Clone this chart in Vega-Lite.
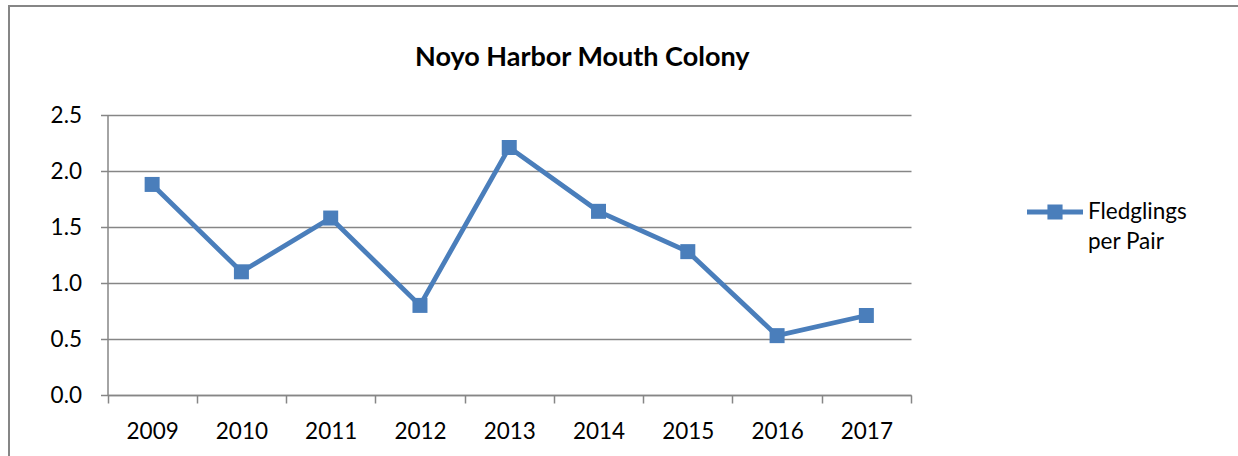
{
  "$schema": "https://vega.github.io/schema/vega-lite/v6.json",
  "width": 1240,
  "height": 460,
  "autosize": {"type": "none"},
  "padding": {"left": 9, "top": 6, "right": 0, "bottom": 0},
  "background": "white",
  "config": {"view": {"stroke": "#868686", "strokeWidth": 2}, "font": "Lato"},
  "title": {
    "text": "Noyo Harbor Mouth Colony",
    "font": "Lato",
    "fontSize": 27,
    "fontWeight": "bold",
    "color": "black",
    "anchor": "start",
    "frame": "group",
    "baseline": "alphabetic",
    "offset": 0,
    "dx": 406,
    "dy": 87
  },
  "data": {
    "values": [
      {"year": 2009, "series": "Fledglings per Pair", "value": 1.88},
      {"year": 2010, "series": "Fledglings per Pair", "value": 1.10},
      {"year": 2011, "series": "Fledglings per Pair", "value": 1.58},
      {"year": 2012, "series": "Fledglings per Pair", "value": 0.80},
      {"year": 2013, "series": "Fledglings per Pair", "value": 2.21},
      {"year": 2014, "series": "Fledglings per Pair", "value": 1.64},
      {"year": 2015, "series": "Fledglings per Pair", "value": 1.28},
      {"year": 2016, "series": "Fledglings per Pair", "value": 0.53},
      {"year": 2017, "series": "Fledglings per Pair", "value": 0.71}
    ]
  },
  "mark": {
    "type": "line",
    "strokeWidth": 4.8,
    "point": {"shape": "square", "size": 225, "filled": true, "opacity": 1}
  },
  "encoding": {
    "x": {
      "field": "year",
      "type": "quantitative",
      "scale": {"domain": [2008.5, 2017.5], "range": [98.5, 902], "nice": false, "zero": false},
      "axis": {
        "title": null,
        "values": [2008.5, 2009, 2009.5, 2010, 2010.5, 2011, 2011.5, 2012, 2012.5, 2013, 2013.5, 2014, 2014.5, 2015, 2015.5, 2016, 2016.5, 2017, 2017.5],
        "labelExpr": "datum.value % 1 === 0 ? format(datum.value, 'd') : ''",
        "offset": -71,
        "grid": false,
        "domainColor": "#868686",
        "domainWidth": 1.5,
        "tickColor": "#868686",
        "tickWidth": 1.5,
        "tickSize": 8,
        "tickOpacity": {"condition": {"test": "datum.value % 1 !== 0", "value": 1}, "value": 0},
        "labelFont": "Lato",
        "labelFontSize": 22.5,
        "labelColor": "black",
        "labelPadding": 17,
        "labelOverlap": false,
        "labelFlush": false,
        "labelBound": false
      }
    },
    "y": {
      "field": "value",
      "type": "quantitative",
      "scale": {"domain": [0, 2.5], "range": [389, 109], "nice": false, "zero": true},
      "axis": {
        "title": null,
        "values": [0, 0.5, 1, 1.5, 2, 2.5],
        "format": ".1f",
        "offset": -98.5,
        "grid": true,
        "gridColor": "#868686",
        "gridWidth": 1.5,
        "domainColor": "#868686",
        "domainWidth": 1.5,
        "tickColor": "#868686",
        "tickWidth": 1.5,
        "tickSize": 7,
        "labelFont": "Lato",
        "labelFontSize": 22.5,
        "labelColor": "black",
        "labelPadding": 19
      }
    },
    "color": {
      "field": "series",
      "type": "nominal",
      "scale": {"range": ["#4a7ebb"]},
      "legend": {
        "title": null,
        "orient": "none",
        "legendX": 1018,
        "legendY": 178,
        "symbolType": "M-1,-0.09L1,-0.09L1,0.09L-1,0.09Z M-0.27,-0.27L0.27,-0.27L0.27,0.27L-0.27,0.27Z",
        "symbolSize": 3136,
        "labelFont": "Lato",
        "labelFontSize": 22.5,
        "labelColor": "black",
        "labelOffset": 5,
        "labelLimit": 0,
        "labelExpr": "['Fledglings', 'per Pair']",
        "encode": {
          "symbols": {"update": {"fill": {"value": "#4a7ebb"}, "stroke": {"value": "transparent"}, "strokeWidth": {"value": 0}, "opacity": {"value": 1}}},
          "labels": {"update": {"lineHeight": {"value": 30}}}
        }
      }
    }
  }
}
